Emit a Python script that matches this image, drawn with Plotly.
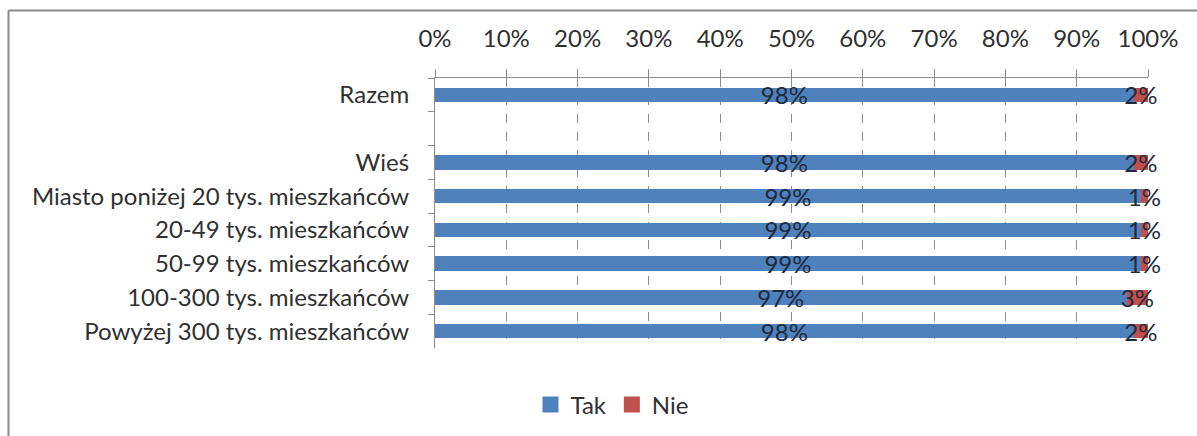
import plotly.graph_objects as go

categories = [
    "Razem",
    " ",
    "Wieś",
    "Miasto poniżej 20 tys. mieszkańców",
    "20-49 tys. mieszkańców",
    "50-99 tys. mieszkańców",
    "100-300 tys. mieszkańców",
    "Powyżej 300 tys. mieszkańców",
]
tak = [98, None, 98, 99, 99, 99, 97, 98]
nie = [2, None, 2, 1, 1, 1, 3, 2]
x_ticks = [0, 10, 20, 30, 40, 50, 60, 70, 80, 90, 100]
x_tick_labels = [f"{v}%" for v in x_ticks]

FONT = "Lato, 'Open Sans', sans-serif"
W, H = 1197, 436
L, R, T, B = 435, 49, 78, 88

series = [("Tak", tak, "#4F81BD"), ("Nie", nie, "#C0504D")]

fig = go.Figure()
for name, vals, color in series:
    fig.add_trace(go.Bar(
        name=name,
        y=categories,
        x=vals,
        orientation="h",
        marker=dict(color=color, line=dict(width=0)),
        text=[f"{v}%" if v is not None else "" for v in vals],
        texttemplate="%{text}",
        textposition="inside",
        insidetextanchor="middle",
        textangle=0,
        constraintext="none",
        cliponaxis=False,
        textfont=dict(family=FONT, size=24, color="#1f2a3a"),
        legendgroup=name,
        showlegend=False,
    ))

# square legend keys
for name, _, color in series:
    fig.add_trace(go.Scatter(
        name=name,
        x=[None], y=[None],
        mode="markers",
        marker=dict(symbol="square", size=16, color=color),
        legendgroup=name,
        showlegend=True,
    ))

# outer frame (top and left edges)
pw, ph = W - L - R, H - T - B
def px_x(p):
    return (p - L) / pw
def px_y(p):
    return (H - B - p) / ph

fig.add_shape(type="line", xref="paper", yref="paper",
              x0=px_x(8.5), x1=px_x(W + 5), y0=px_y(10.5), y1=px_y(10.5),
              line=dict(color="#8a8a8a", width=2))
fig.add_shape(type="line", xref="paper", yref="paper",
              x0=px_x(8.5), x1=px_x(8.5), y0=px_y(10.5), y1=px_y(H + 5),
              line=dict(color="#8a8a8a", width=2))

fig.update_layout(
    width=W, height=H,
    margin=dict(l=L, r=R, t=T, b=B, autoexpand=False),
    barmode="stack",
    bargap=0.57,
    paper_bgcolor="white",
    plot_bgcolor="white",
    font=dict(family=FONT, size=24, color="#303030"),
    showlegend=True,
    legend=dict(
        orientation="h",
        traceorder="normal",
        itemsizing="trace",
        x=px_x(612), xanchor="center",
        y=px_y(405), yanchor="middle",
        font=dict(family=FONT, size=24, color="#303030"),
        itemwidth=30,
        tracegroupgap=0,
    ),
    xaxis=dict(
        side="top",
        range=[0, 100],
        tickvals=x_ticks,
        ticktext=x_tick_labels,
        showgrid=True,
        gridcolor="#8c8c8c",
        griddash="dash",
        gridwidth=1,
        showline=True,
        linecolor="#8c8c8c",
        linewidth=1,
        ticks="outside",
        ticklen=8,
        tickcolor="#8c8c8c",
        ticklabelstandoff=12,
        zeroline=False,
        fixedrange=True,
    ),
    yaxis=dict(
        type="category",
        categoryorder="array",
        categoryarray=categories,
        autorange="reversed",
        showline=True,
        linecolor="#8c8c8c",
        linewidth=1,
        ticks="outside",
        tickson="boundaries",
        ticklen=6,
        tickcolor="#8c8c8c",
        showgrid=False,
        ticklabelstandoff=20,
        fixedrange=True,
    ),
)

fig.write_html("out.html")
